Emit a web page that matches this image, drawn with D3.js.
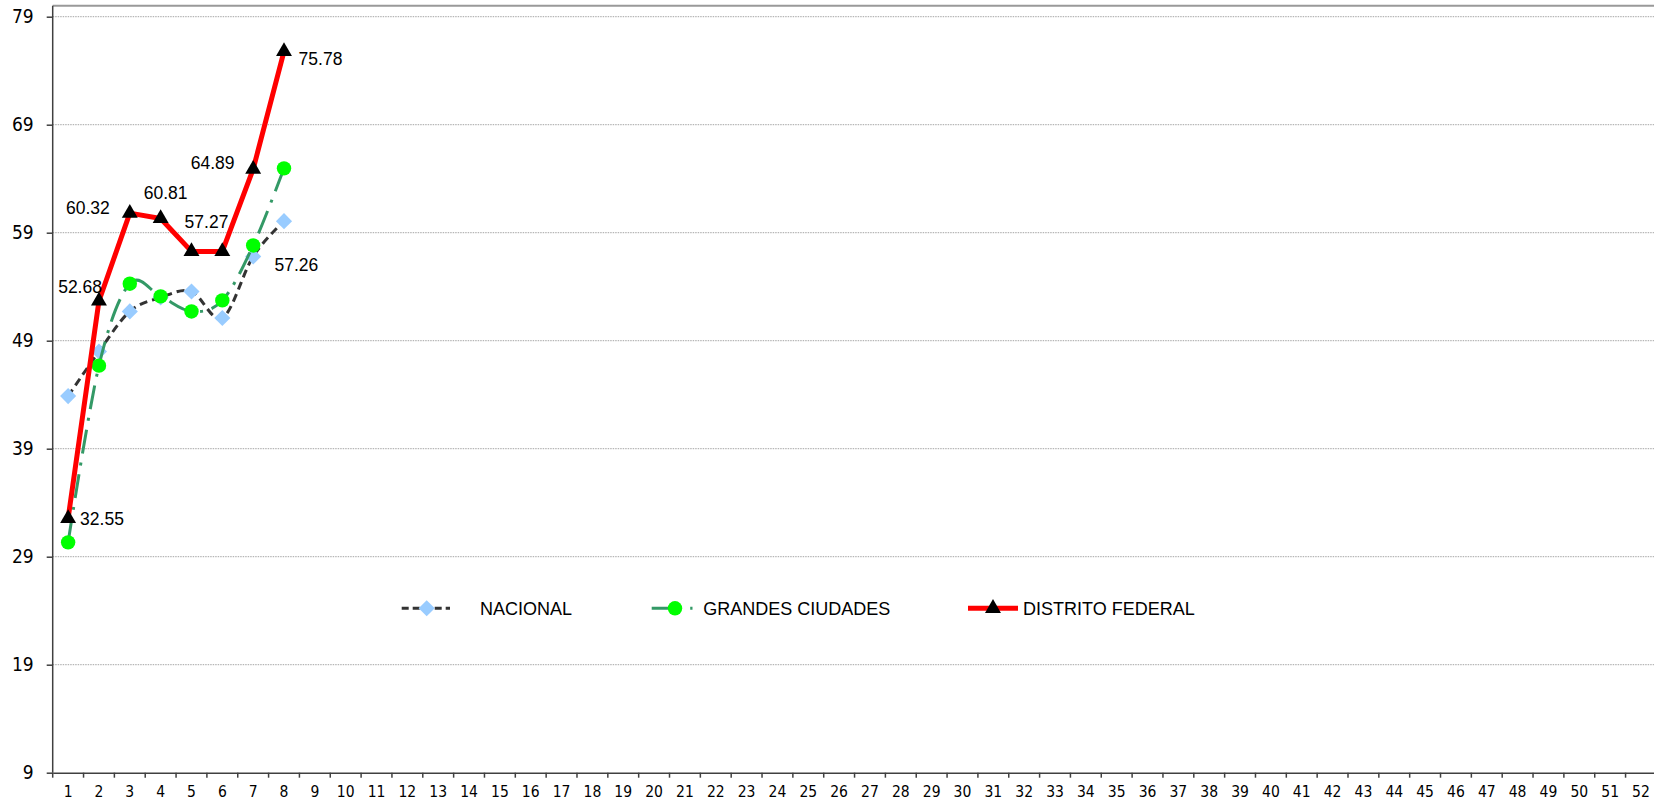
<!DOCTYPE html>
<html>
<head>
<meta charset="utf-8">
<script src="https://cdn.jsdelivr.net/npm/d3@7/dist/d3.min.js"></script>
<style>
  html, body { margin: 0; padding: 0; background: #ffffff; }
  svg { display: block; }
  .tick-y text { font-family: "DejaVu Sans Condensed", "DejaVu Sans", sans-serif; font-stretch: condensed; font-size: 19px; fill: #000; }
  .tick-x text { font-family: "DejaVu Sans Condensed", "DejaVu Sans", sans-serif; font-stretch: condensed; font-size: 15.5px; fill: #000; }
  .lbl { font-family: "Liberation Sans", Arial, sans-serif; font-size: 17.5px; fill: #000; }
  .leg { font-family: "Liberation Sans", Arial, sans-serif; font-size: 18px; fill: #000; }
</style>
</head>
<body>
<svg id="chart" width="1654" height="804"></svg>
<script>
// ---- data ----
const categories = d3.range(1, 53).map(String);
const yTicks = [9, 19, 29, 39, 49, 59, 69, 79];
const seriesNames = ["NACIONAL", "GRANDES CIUDADES", "DISTRITO FEDERAL"];
const nacional = [43.87, 48.0, 51.71, 53.0, 53.56, 51.1, 56.8, 60.07];
const grandesCiudades = [30.33, 46.69, 54.28, 53.1, 51.71, 52.73, 57.82, 64.96];
const distritoFederal = [32.55, 52.68, 60.81, 60.32, 57.27, 57.26, 64.89, 75.78];
const dfLabels = ["32.55", "52.68", "60.32", "60.81", "57.27", "57.26", "64.89", "75.78"];

// ---- layout ----
const W = 1654, H = 804;
const mLeft = 52.7, mRight = 1656.4, mTop = 16.7, mBottom = 772.7;
const svg = d3.select("#chart");

const x = d3.scaleBand().domain(categories).range([mLeft, mRight]).paddingInner(0).paddingOuter(0);
const y = d3.scaleLinear().domain([9, 79]).range([mBottom, mTop]);
const cx = i => x(categories[i]) + x.bandwidth() / 2;

// gridlines
svg.append("g").selectAll("line").data(yTicks.filter(t => t !== 9)).join("line")
  .attr("x1", mLeft).attr("x2", W).attr("y1", d => y(d)).attr("y2", d => y(d))
  .attr("stroke", "#a6a6a6").attr("stroke-width", 1).attr("stroke-dasharray", "1.5 1");

// top frame line
svg.append("line").attr("x1", mLeft).attr("x2", W).attr("y1", 5.7).attr("y2", 5.7)
  .attr("stroke", "#999999").attr("stroke-width", 2);

// y axis
const yAxis = svg.append("g").attr("class", "tick-y").attr("transform", `translate(${mLeft},0)`)
  .call(d3.axisLeft(y).tickValues(yTicks).tickSize(6).tickPadding(13).tickFormat(d3.format("d")));
yAxis.select(".domain").attr("stroke", "#404040").attr("stroke-width", 1.5).attr("d", `M0,5.7V${mBottom}`);
yAxis.selectAll(".tick line").attr("stroke", "#404040").attr("stroke-width", 1.5);

// x axis
const xAxis = svg.append("g").attr("class", "tick-x").attr("transform", `translate(0,${mBottom})`)
  .call(d3.axisBottom(x).tickSize(0).tickPadding(13));
xAxis.select(".domain").attr("stroke", "#404040").attr("stroke-width", 1.5);
xAxis.selectAll(".tick text").attr("dy", "0.71em");
xAxis.append("g").selectAll("line").data(categories).join("line")
  .attr("x1", d => x(d)).attr("x2", d => x(d)).attr("y1", 0).attr("y2", 5)
  .attr("stroke", "#404040").attr("stroke-width", 1.5);

// symbols
const diamond = d3.symbol().type(d3.symbolSquare).size(130);
const triangle = d3.symbol().type(d3.symbolTriangle).size(110);

const lineSmooth = d3.line().x((d, i) => cx(i)).y(d => y(d)).curve(d3.curveCardinal.tension(0));
const lineStraight = d3.line().x((d, i) => cx(i)).y(d => y(d));

// NACIONAL
svg.append("path").datum(nacional).attr("d", lineSmooth)
  .attr("fill", "none").attr("stroke", "#333333").attr("stroke-width", 3).attr("stroke-dasharray", "8 5");
svg.append("g").selectAll("path").data(nacional).join("path")
  .attr("d", diamond).attr("transform", (d, i) => `translate(${cx(i)},${y(d)}) rotate(45)`)
  .attr("fill", "#99ccff");

// GRANDES CIUDADES
svg.append("path").datum(grandesCiudades).attr("d", lineSmooth)
  .attr("fill", "none").attr("stroke", "#339966").attr("stroke-width", 3).attr("stroke-dasharray", "24 9 3 9");
svg.append("g").selectAll("circle").data(grandesCiudades).join("circle")
  .attr("cx", (d, i) => cx(i)).attr("cy", d => y(d)).attr("r", 7.2).attr("fill", "#00ff00");

// DISTRITO FEDERAL
svg.append("path").datum(distritoFederal).attr("d", lineStraight)
  .attr("fill", "none").attr("stroke", "#ff0000").attr("stroke-width", 5).attr("stroke-linejoin", "round");
svg.append("g").selectAll("path").data(distritoFederal).join("path")
  .attr("d", triangle).attr("transform", (d, i) => `translate(${cx(i)},${y(d)})`)
  .attr("fill", "#000000");

// data labels (offsets as placed on the original)
const lblOff = [
  {dx: 12, dy: 1, a: "start"},
  {dx: 3, dy: -14, a: "end"},
  {dx: -20, dy: -5, a: "end"},
  {dx: 5, dy: -26, a: "middle"},
  {dx: 15, dy: -30, a: "middle"},
  {dx: 74, dy: 13, a: "middle"},
  {dx: -18.6, dy: -6, a: "end"},
  {dx: 14.6, dy: 7.6, a: "start"}
];
svg.append("g").selectAll("text").data(distritoFederal).join("text")
  .attr("class", "lbl")
  .attr("x", (d, i) => cx(i) + lblOff[i].dx)
  .attr("y", (d, i) => y(d) + lblOff[i].dy)
  .attr("dy", "0.35em")
  .attr("text-anchor", (d, i) => lblOff[i].a)
  .text((d, i) => dfLabels[i]);

// legend
const ly = 608.3;
const lg = svg.append("g");
lg.append("line").attr("x1", 401.7).attr("x2", 450).attr("y1", ly).attr("y2", ly)
  .attr("stroke", "#333333").attr("stroke-width", 3).attr("stroke-dasharray", "7 4");
lg.append("path").attr("d", diamond).attr("transform", `translate(426.7,${ly}) rotate(45)`).attr("fill", "#99ccff");
lg.append("text").attr("class", "leg").attr("x", 480).attr("y", ly).attr("dy", "0.35em").text(seriesNames[0]);

lg.append("line").attr("x1", 651.7).attr("x2", 692.5).attr("y1", ly).attr("y2", ly)
  .attr("stroke", "#339966").attr("stroke-width", 3).attr("stroke-dasharray", "24 14.5 2.5 20");
lg.append("circle").attr("cx", 675).attr("cy", ly).attr("r", 7.2).attr("fill", "#00ff00");
lg.append("text").attr("class", "leg").attr("x", 703.3).attr("y", ly).attr("dy", "0.35em").text(seriesNames[1]);

lg.append("line").attr("x1", 968).attr("x2", 1018).attr("y1", ly).attr("y2", ly)
  .attr("stroke", "#ff0000").attr("stroke-width", 5);
lg.append("path").attr("d", triangle).attr("transform", `translate(993,${ly})`).attr("fill", "#000");
lg.append("text").attr("class", "leg").attr("x", 1023).attr("y", ly).attr("dy", "0.35em").text(seriesNames[2]);
</script>
</body>
</html>
